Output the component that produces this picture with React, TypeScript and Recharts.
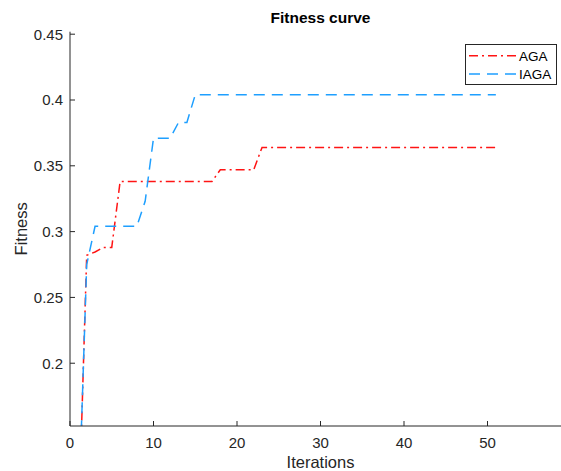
// fitness curve: AGA vs IAGA, MATLAB-style axes box

import { LineChart, Line, XAxis, YAxis, Legend } from "recharts";

const iterations = [
  1, 2, 3, 4, 5, 6, 7, 8, 9, 10, 11, 12, 13, 14, 15, 16, 17, 18, 19, 20, 21, 22, 23, 24, 25, 26,
  27, 28, 29, 30, 31, 32, 33, 34, 35, 36, 37, 38, 39, 40, 41, 42, 43, 44, 45, 46, 47, 48, 49, 50, 51,
];

const agaFitness = [
  0.07, 0.282, 0.2845, 0.288, 0.288, 0.338, 0.338, 0.338, 0.338, 0.338, 0.338, 0.338, 0.338, 0.338,
  0.338, 0.338, 0.338, 0.347, 0.347, 0.347, 0.347, 0.347, 0.364, 0.364, 0.364, 0.364, 0.364, 0.364,
  0.364, 0.364, 0.364, 0.364, 0.364, 0.364, 0.364, 0.364, 0.364, 0.364, 0.364, 0.364, 0.364, 0.364,
  0.364, 0.364, 0.364, 0.364, 0.364, 0.364, 0.364, 0.364, 0.364,
];

const iagaFitness = [
  0.08, 0.275, 0.304, 0.304, 0.304, 0.304, 0.304, 0.304, 0.323, 0.371, 0.371, 0.371, 0.383, 0.383,
  0.404, 0.404, 0.404, 0.404, 0.404, 0.404, 0.404, 0.404, 0.404, 0.404, 0.404, 0.404, 0.404, 0.404,
  0.404, 0.404, 0.404, 0.404, 0.404, 0.404, 0.404, 0.404, 0.404, 0.404, 0.404, 0.404, 0.404, 0.404,
  0.404, 0.404, 0.404, 0.404, 0.404, 0.404, 0.404, 0.404, 0.404,
];

const xTicks = [0, 10, 20, 30, 40, 50];
const yTicks = [0.2, 0.25, 0.3, 0.35, 0.4, 0.45];

const series = [
  { key: "aga", name: "AGA", color: "#ff1414", dash: "9 4 2 4" },
  { key: "iaga", name: "IAGA", color: "#1e9fff", dash: "11 7" },
];

const data = iterations.map((x, i) => ({ x, aga: agaFitness[i], iaga: iagaFitness[i] }));

const AXIS = "#262626";
const FONT = "'Liberation Sans', Arial, sans-serif";

// legend drawn as a small boxed svg, like the matlab one
function LegendBox() {
  return (
    <svg width={92} height={41} style={{ display: "block" }}>
      <rect x={0.5} y={0.5} width={91} height={40} fill="#fff" stroke={AXIS} />
      {series.map((s, i) => {
        const cy = 11.7 + i * 18.3;
        return (
          <g key={s.key}>
            <line x1={4} x2={51} y1={cy} y2={cy} stroke={s.color} strokeWidth={1.5} strokeDasharray={s.dash} />
            <text x={54} y={cy} dy="0.36em" fontSize={13.5} fill="#000" fontFamily={FONT}>
              {s.name}
            </text>
          </g>
        );
      })}
    </svg>
  );
}

export default function App() {
  return (
    <div
      style={{
        position: "absolute",
        left: 0,
        top: 0,
        width: 561,
        height: 471,
        overflow: "hidden",
        background: "#fff",
        fontFamily: FONT,
      }}
    >
      {/* title centred over the plot area (70..571) */}
      <div
        style={{
          position: "absolute",
          left: 70,
          width: 501,
          top: 9,
          textAlign: "center",
          fontSize: 15.5,
          fontWeight: "bold",
          color: "#000",
          lineHeight: "18px",
          zIndex: 1,
        }}
      >
        Fitness curve
      </div>
      <LineChart width={571} height={471} data={data} margin={{ top: 31.7, right: 0, bottom: 0, left: 0 }}>
        <XAxis
          dataKey="x"
          type="number"
          domain={[0, 60]}
          ticks={xTicks}
          height={45}
          tickSize={-5}
          tickMargin={16}
          axisLine={{ stroke: AXIS }}
          tickLine={{ stroke: AXIS }}
          tick={{ fill: AXIS, fontSize: 15 }}
          label={{ value: "Iterations", position: "insideBottom", offset: 3, fill: AXIS, fontSize: 16.5 }}
        />
        {/* top edge of the box, ticks only */}
        <XAxis
          xAxisId="top"
          orientation="top"
          type="number"
          domain={[0, 60]}
          ticks={xTicks}
          height={0}
          tickSize={-5}
          tick={false}
          axisLine={{ stroke: AXIS }}
          tickLine={{ stroke: AXIS }}
        />
        <YAxis
          type="number"
          domain={[0.1523, 0.4519]}
          allowDataOverflow
          ticks={yTicks}
          width={70}
          tickSize={-5}
          tickMargin={12}
          axisLine={{ stroke: AXIS }}
          tickLine={{ stroke: AXIS }}
          tick={{ fill: AXIS, fontSize: 15 }}
          tickFormatter={(v: number) => String(+v.toFixed(2))}
          label={{
            value: "Fitness",
            content: ({ viewBox }: any) => {
              const cx = viewBox.x + 21.5;
              const cy = viewBox.y + viewBox.height / 2;
              return (
                <text x={cx} y={cy} transform={`rotate(-90 ${cx} ${cy})`} textAnchor="middle" dy="0.36em" fontSize={16.5} fill={AXIS}>
                  Fitness
                </text>
              );
            },
          }}
        />
        <Legend
          layout="vertical"
          align="center"
          verticalAlign="middle"
          wrapperStyle={{ left: 465, top: 44, width: 92, height: 41 }}
          content={() => <LegendBox />}
        />
        {series.map((s) => (
          <Line
            key={s.key}
            type="linear"
            dataKey={s.key}
            name={s.name}
            stroke={s.color}
            strokeWidth={1.5}
            strokeDasharray={s.dash}
            dot={false}
            activeDot={false}
            isAnimationActive={false}
          />
        ))}
      </LineChart>
    </div>
  );
}
